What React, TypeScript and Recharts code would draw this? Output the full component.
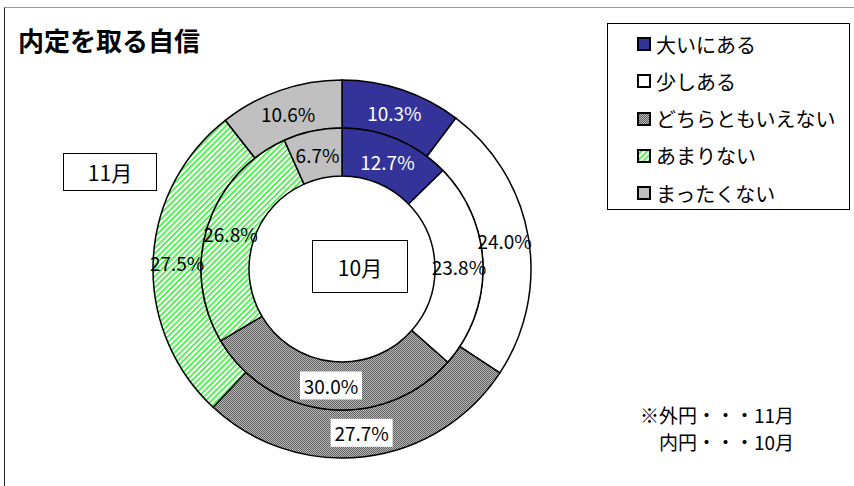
import { PieChart, Pie, Cell, Customized } from "recharts";

const categories = ["大いにある", "少しある", "どちらともいえない", "あまりない", "まったくない"];
const nov = [10.3, 24.0, 27.7, 27.5, 10.6];
const oct = [12.7, 23.8, 30.0, 26.8, 6.7];
const fills = ["#333399", "#FFFFFF", "url(#dots)", "url(#hatch)", "#C0C0C0"];
const labelColors = ["#FFFFFF", "#000000", "#000000", "#000000", "#000000"];
const boxedLabel = [false, false, true, false, false];

const FONT = "'Noto Sans CJK JP', 'Noto Sans', sans-serif";
const RADIAN = Math.PI / 180;

const outerData = categories.map((name, i) => ({ name, value: nov[i] }));
const innerData = categories.map((name, i) => ({ name, value: oct[i] }));

function renderLabel(props: any) {
  const { cx, cy, midAngle, innerRadius, outerRadius, value, index } = props;
  const r = (innerRadius + outerRadius) / 2;
  const x = cx + r * Math.cos(-midAngle * RADIAN);
  const y = cy + r * Math.sin(-midAngle * RADIAN);
  const text = value.toFixed(1) + "%";
  return (
    <g key={"lbl" + index}>
      {boxedLabel[index] && <rect x={x - 31} y={y - 14} width={62} height={28} fill="#fff" />}
      <text x={x} y={y} fill={labelColors[index]} textAnchor="middle" dominantBaseline="central"
        fontSize={19} fontFamily={FONT}>{text}</text>
    </g>
  );
}

function Patterns() {
  return (
    <defs>
      <pattern id="dots" width="2" height="2" patternUnits="userSpaceOnUse">
        <rect width="2" height="2" fill="#B8B8B8" />
        <rect width="1" height="1" fill="#606060" />
        <rect x="1" y="1" width="1" height="1" fill="#606060" />
      </pattern>
      <pattern id="hatch" width="4" height="4" patternUnits="userSpaceOnUse" patternTransform="rotate(45)">
        <rect width="4" height="4" fill="#FFFFFF" />
        <rect width="1.6" height="4" fill="#33EE33" />
      </pattern>
    </defs>
  );
}

const box = (left: number, top: number, w: number, h: number, text: string) => (
  <div style={{ position: "absolute", left, top, width: w, height: h, border: "1.5px solid #000", boxSizing: "border-box",
    display: "flex", alignItems: "center", justifyContent: "center", fontSize: 21, fontFamily: FONT, background: "#fff" }}>
    {text}
  </div>
);

export default function App() {
  return (
    <div style={{ position: "absolute", left: 0, top: 0, width: 854, height: 486, background: "#fff", overflow: "hidden" }}>
      <div style={{ position: "absolute", left: 4, top: 7, width: 900, height: 600, borderLeft: "1.5px solid #222", borderTop: "1.5px solid #999" }} />
      <PieChart width={854} height={486} style={{ position: "absolute", left: 0, top: 0 }}>
        <Customized component={Patterns} />
        <Pie data={outerData} dataKey="value" cx={337} cy={264} innerRadius={141} outerRadius={189}
          startAngle={90} endAngle={-270} stroke="#000" strokeWidth={1.5} label={renderLabel} labelLine={false}
          isAnimationActive={false}>
          {outerData.map((d, i) => <Cell key={i} fill={fills[i]} />)}
        </Pie>
        <Pie data={innerData} dataKey="value" cx={337} cy={264} innerRadius={93} outerRadius={141}
          startAngle={90} endAngle={-270} stroke="#000" strokeWidth={1.5} label={renderLabel} labelLine={false}
          isAnimationActive={false}>
          {innerData.map((d, i) => <Cell key={i} fill={fills[i]} />)}
        </Pie>
      </PieChart>
      <div style={{ position: "absolute", left: 18, top: 24, fontSize: 26, fontWeight: "bold", fontFamily: FONT, lineHeight: "32px" }}>
        内定を取る自信
      </div>
      <div style={{ position: "absolute", left: 607, top: 23, width: 243, height: 187, border: "1.5px solid #000", boxSizing: "border-box", background: "#fff" }}>
        {categories.map((c, i) => (
          <div key={c} style={{ position: "absolute", left: 29, top: 7 + i * 37.3, height: 26, display: "flex", alignItems: "center",
            fontSize: 20, fontFamily: FONT, whiteSpace: "nowrap" }}>
            <svg width={14} height={14} style={{ marginRight: 5 }}>
              <Patterns />
              <rect x={1} y={1} width={12} height={12} fill={fills[i]} stroke="#000" strokeWidth={2} />
            </svg>
            {c}
          </div>
        ))}
      </div>
      {box(63, 153, 94, 38, "11月")}
      {box(312, 240, 96, 53, "10月")}
      <div style={{ position: "absolute", left: 640, top: 401, fontSize: 19, fontFamily: FONT, lineHeight: "27px", whiteSpace: "pre" }}>
        {"※外円・・・11月\n\u3000内円・・・10月"}
      </div>
    </div>
  );
}
